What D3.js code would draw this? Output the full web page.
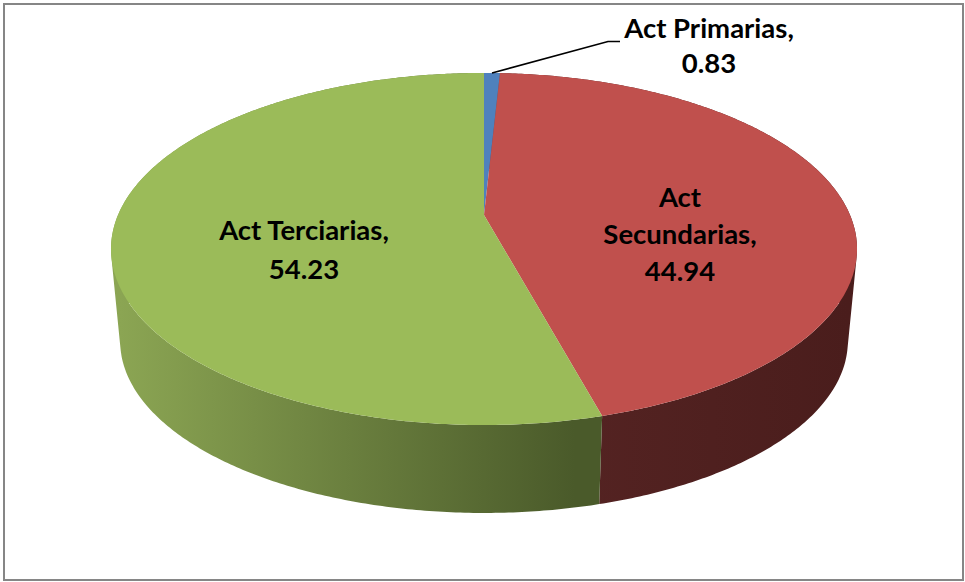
<!DOCTYPE html>
<html>
<head>
<meta charset="utf-8">
<script src="https://cdn.jsdelivr.net/npm/d3@7"></script>
<style>
  html, body { margin: 0; padding: 0; background: #fff; }
  text { font-family: Lato, "Open Sans", sans-serif; font-weight: 700; fill: #000; }
</style>
</head>
<body>
<div id="container"></div>
<script>
let categories = ['Act Primarias', 'Act Secundarias', 'Act Terciarias']
let values = [0.83, 44.94, 54.23]
let topColors = ['#4f81bd', '#c0504d', '#9bbb59']
let sideFrom = ['#3a5f8c', '#542322', '#4a5a2a']
let sideTo = ['#3a5f8c', '#4a1d1c', '#8ba553']
let labelLines = [
  ['Act Primarias,', '0.83'],
  ['Act', 'Secundarias,', '44.94'],
  ['Act Terciarias,', '54.23']
]
let labelPos = [
  {x: 709, y: 38, dy: 35},
  {x: 680, y: 207, dy: 37},
  {x: 304, y: 240, dy: 38.5}
]

let screenWidth = 965
let screenHeight = 582
let persp = 0.193

let topDisc = {cx: 484, cy: 215, rx: 366, ry: 169.5}
let bottomDisc = {cx: 484, cy: 308, rx: 357, ry: 165.4}

// circle seen in perspective, angle clockwise from the far side
function project(disc, a) {
  let s = 1 + persp * Math.cos(a)
  return [disc.cx + disc.rx * Math.sin(a) / s, disc.cy - disc.ry * Math.cos(a) / s]
}

function arcPoints(disc, a0, a1) {
  let n = Math.max(2, Math.ceil((a1 - a0) / 0.01))
  return d3.range(n + 1).map(i => project(disc, a0 + (a1 - a0) * i / n))
}

function main() {
  let svg = d3.select('#container').append('svg')
    .attr('width', screenWidth)
    .attr('height', screenHeight)
    .style('display', 'block')

  svg.append('rect')
    .attr('x', 4)
    .attr('y', 4)
    .attr('width', 959)
    .attr('height', 576)
    .attr('fill', '#fff')
    .attr('stroke', '#868686')
    .attr('stroke-width', 2)

  let arcs = d3.pie().sort(null)(values)
  let line = d3.line()
  let defs = svg.append('defs')

  arcs.forEach((d, i) => {
    let grad = defs.append('linearGradient')
      .attr('id', 'side' + i)
      .attr('gradientUnits', 'userSpaceOnUse')
      .attr('x1', 575).attr('x2', i == 2 ? 120 : 850)
      .attr('y1', 0).attr('y2', 0)
    grad.append('stop').attr('offset', 0).attr('stop-color', sideFrom[i])
    grad.append('stop').attr('offset', 1).attr('stop-color', sideTo[i])
  })

  // walls first, the top discs cover whatever is behind them
  // one small quad per step, all wound the same way or the fold cancels out
  svg.selectAll('path.side')
    .data(arcs)
    .enter()
    .append('path')
    .attr('class', 'side')
    .attr('d', d => {
      let top = arcPoints(topDisc, d.startAngle, d.endAngle)
      let bottom = arcPoints(bottomDisc, d.startAngle, d.endAngle)
      return d3.range(top.length - 1)
        .map(k => {
          let quad = [top[k], top[k + 1], bottom[k + 1], bottom[k]]
          if (d3.polygonArea(quad) < 0) quad.reverse()
          return line(quad) + 'Z'
        })
        .join('')
    })
    .attr('fill', (d, i) => 'url(#side' + i + ')')

  svg.selectAll('path.top')
    .data(arcs)
    .enter()
    .append('path')
    .attr('class', 'top')
    .attr('d', d => line([[topDisc.cx, topDisc.cy]].concat(arcPoints(topDisc, d.startAngle, d.endAngle))) + 'Z')
    .attr('fill', (d, i) => topColors[i])

  // leader for the small slice
  let anchor = project(topDisc, (arcs[0].startAngle + arcs[0].endAngle) / 2)
  svg.append('path')
    .attr('d', line([anchor, [608, 41.5], [620, 41.5]]))
    .attr('fill', 'none')
    .attr('stroke', '#000')
    .attr('stroke-width', 1.6)

  categories.forEach((c, i) => {
    let t = svg.append('text')
      .attr('text-anchor', 'middle')
      .attr('font-size', 27.5)
    labelLines[i].forEach((s, j) => {
      t.append('tspan')
        .attr('x', labelPos[i].x)
        .attr('y', labelPos[i].y + j * labelPos[i].dy)
        .text(s)
    })
  })
}

main()
</script>
</body>
</html>
